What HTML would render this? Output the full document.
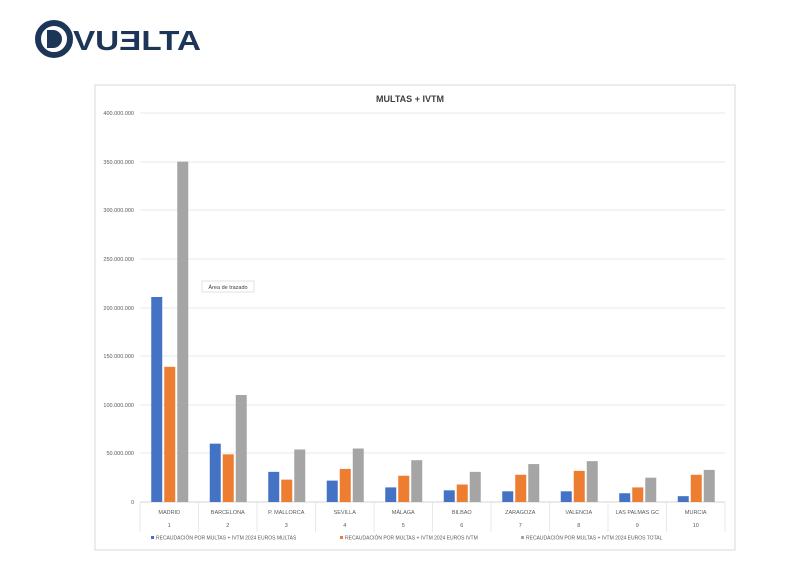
<!DOCTYPE html>
<html><head><meta charset="utf-8"><style>
body{margin:0;background:#fff;width:800px;height:581px;overflow:hidden;font-family:"Liberation Sans",sans-serif}
</style></head><body>
<svg width="800" height="581" xmlns="http://www.w3.org/2000/svg" font-family="Liberation Sans, sans-serif">
<circle cx="54" cy="39" r="16" fill="none" stroke="#1d3557" stroke-width="6"/>
<path d="M47 30 h6 a9 9 0 0 1 0 18 h-6 z" fill="#1d3557"/>
<text x="73" y="50" font-size="28" font-weight="bold" fill="#1d3557" textLength="128" lengthAdjust="spacingAndGlyphs">VUƎLTA</text>
<rect x="95" y="85" width="640" height="465" fill="#fff" stroke="#d9d9d9"/>
<text x="410" y="102" font-size="9" font-weight="bold" fill="#404040" text-anchor="middle">MULTAS + IVTM</text>
<g font-size="5.5" fill="#595959" text-anchor="end">
<g stroke="#e3e3e3" stroke-width="0.7">
<line x1="140" x2="725" y1="113" y2="113"/><line x1="140" x2="725" y1="162" y2="162"/>
<line x1="140" x2="725" y1="210" y2="210"/><line x1="140" x2="725" y1="259" y2="259"/>
<line x1="140" x2="725" y1="308" y2="308"/><line x1="140" x2="725" y1="356" y2="356"/>
<line x1="140" x2="725" y1="405" y2="405"/><line x1="140" x2="725" y1="453" y2="453"/>
<line x1="140" x2="725" y1="502" y2="502" stroke="#c8c8c8"/>
</g>
<text x="134" y="115">400.000.000</text><text x="134" y="164">350.000.000</text>
<text x="134" y="212">300.000.000</text><text x="134" y="261">250.000.000</text>
<text x="134" y="310">200.000.000</text><text x="134" y="358">150.000.000</text>
<text x="134" y="407">100.000.000</text><text x="134" y="455">50.000.000</text>
<text x="134" y="504">0</text>
</g>
<g id="bars"></g>
<g stroke="#e0e0e0" stroke-width="0.7" id="divs"></g>
<g font-size="5.5" fill="#595959" text-anchor="middle" id="labs"></g>
<rect x="202" y="281" width="52" height="11" fill="#fff" stroke="#cfcfcf" stroke-width="0.6"/>
<text x="228" y="289" font-size="5.5" fill="#404040" text-anchor="middle">Área de trazado</text>
<g font-size="5" fill="#595959">
<rect x="151" y="536" width="3" height="3" fill="#4472c4"/><text x="156" y="539.5">RECAUDACIÓN POR MULTAS + IVTM 2024 EUROS MULTAS</text>
<rect x="340" y="536" width="3" height="3" fill="#ed7d31"/><text x="345" y="539.5">RECAUDACIÓN POR MULTAS + IVTM 2024 EUROS IVTM</text>
<rect x="521" y="536" width="3" height="3" fill="#a5a5a5"/><text x="526" y="539.5">RECAUDACIÓN POR MULTAS + IVTM 2024 EUROS TOTAL</text>
</g>
</svg>
<script>
const d=[["MADRID",210.8,139,350],["BARCELONA",60,49,110],["P. MALLORCA",31,23,54],["SEVILLA",22,34,55],["MÁLAGA",15,27,43],["BILBAO",12,18,31],["ZARAGOZA",11,28,39],["VALENCIA",11,32,42],["LAS PALMAS GC",9,15,25],["MURCIA",6,28,33]];
const ns="http://www.w3.org/2000/svg",c=["#4472c4","#ed7d31","#a5a5a5"];
const B=document.getElementById("bars"),D=document.getElementById("divs"),L=document.getElementById("labs");
function el(p,t,a,txt){const e=document.createElementNS(ns,t);for(const k in a)e.setAttribute(k,a[k]);if(txt)e.textContent=txt;p.appendChild(e);}
d.forEach((r,i)=>{const cx=140+58.5*i+29.25;
for(let j=0;j<3;j++){const h=r[j+1]*389/400;el(B,"rect",{x:cx-18+j*13,y:502-h,width:11,height:h,fill:c[j]});}
el(L,"text",{x:cx,y:514},r[0]);el(L,"text",{x:cx,y:527},String(i+1));
el(D,"line",{x1:140+58.5*i,x2:140+58.5*i,y1:502,y2:532});});
el(D,"line",{x1:725,x2:725,y1:502,y2:532});
</script>
</body></html>
